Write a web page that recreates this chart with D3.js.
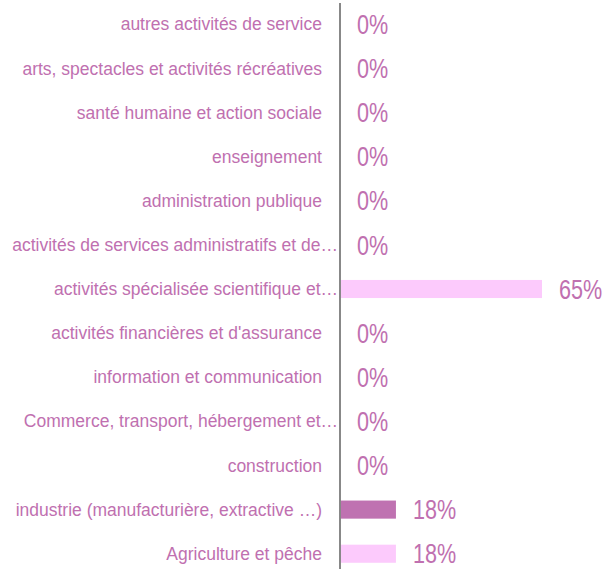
<!DOCTYPE html>
<html>
<head>
<meta charset="utf-8">
<script src="https://cdn.jsdelivr.net/npm/d3@7"></script>
<style>
  body { margin: 0; background: #fff; }
  svg text { font-family: "Liberation Sans Narrow", "Arial Narrow", "Liberation Sans", sans-serif; }
</style>
</head>
<body>
<svg width="612" height="569"></svg>
<script>
// categories, bottom to top as in the chart
const categories = [
  "Agriculture et pêche",
  "industrie (manufacturière, extractive …)",
  "construction",
  "Commerce, transport, hébergement et…",
  "information et communication",
  "activités financières et d'assurance",
  "activités spécialisée scientifique et…",
  "activités de services administratifs et de…",
  "administration publique",
  "enseignement",
  "santé humaine et action sociale",
  "arts, spectacles et activités récréatives",
  "autres activités de service"
];
const values = [18, 18, 0, 0, 0, 0, 65, 0, 0, 0, 0, 0, 0];
const colors = ["#fccafc", "#bf72b1"];

const svg = d3.select("svg");
const axisX = 340;

const x = d3.scaleLinear().domain([0, 65]).range([axisX, 542]);
const y = d3.scaleBand()
  .domain(categories.slice().reverse())
  .range([2, 576])
  .paddingInner(0.59)
  .paddingOuter(0.3);

const rows = svg.append("g").selectAll("g")
  .data(categories.map((c, i) => ({ c: c, v: values[i], i: i })))
  .enter().append("g");

rows.append("rect")
  .attr("x", x(0))
  .attr("y", d => y(d.c))
  .attr("width", d => x(d.v) - x(0))
  .attr("height", y.bandwidth())
  .attr("fill", d => colors[d.i % 2]);

rows.append("text")
  .attr("x", d => d.c.endsWith("…") ? axisX - 2 : axisX - 18)
  .attr("y", d => y(d.c) + y.bandwidth() / 2)
  .attr("dy", "0.35em")
  .attr("text-anchor", "end")
  .style("font-size", "17.5px")
  .style("fill", "#c070b0")
  .text(d => d.c);

// value labels, squeezed horizontally like a narrow face
rows.append("text")
  .attr("transform", d => "translate(" + (x(d.v) + 17) + "," + (y(d.c) + y.bandwidth() / 2) + ") scale(0.8,1)")
  .attr("dy", "0.36em")
  .style("font-size", "27px")
  .style("fill", "#c070b0")
  .text(d => d.v + "%");

// vertical axis line
svg.append("line")
  .attr("x1", axisX).attr("x2", axisX)
  .attr("y1", 3).attr("y2", 569)
  .attr("stroke", "#888")
  .attr("stroke-width", 2);
</script>
</body>
</html>
